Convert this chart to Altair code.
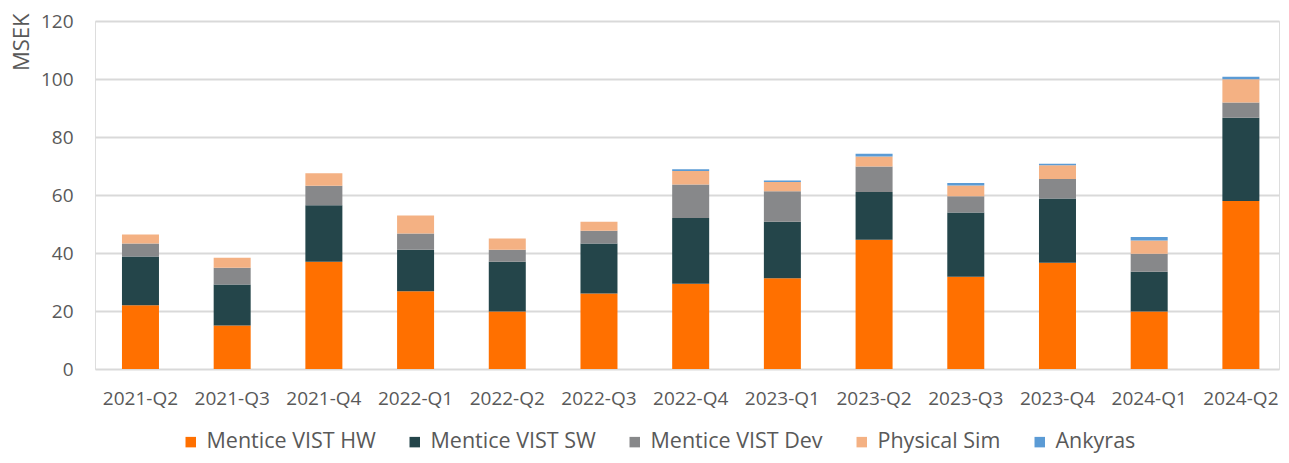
import altair as alt
import pandas as pd

quarters = ["2021-Q2", "2021-Q3", "2021-Q4", "2022-Q1", "2022-Q2", "2022-Q3", "2022-Q4",
            "2023-Q1", "2023-Q2", "2023-Q3", "2023-Q4", "2024-Q1", "2024-Q2"]
series = ["Mentice VIST HW", "Mentice VIST SW", "Mentice VIST Dev", "Physical Sim", "Ankyras"]
colors = ["#ff7000", "#24454a", "#87888a", "#f4b183", "#5b9bd5"]

vist_hw = [22.0, 15.0, 37.0, 26.8, 19.8, 26.0, 29.4, 31.3, 44.6, 31.8, 36.6, 19.8, 57.9]
vist_sw = [16.8, 14.1, 19.5, 14.3, 17.2, 17.3, 22.7, 19.5, 16.4, 22.2, 22.2, 13.7, 28.7]
vist_dev = [4.5, 5.8, 6.7, 5.6, 4.1, 4.4, 11.5, 10.5, 8.8, 5.6, 6.7, 6.2, 5.3]
physical_sim = [3.1, 3.5, 4.3, 6.2, 3.9, 3.1, 4.7, 3.2, 3.5, 3.7, 4.8, 4.6, 8.0]
ankyras = [0, 0, 0, 0, 0, 0, 0.6, 0.5, 0.9, 0.8, 0.5, 1.2, 0.9]

values = [vist_hw, vist_sw, vist_dev, physical_sim, ankyras]
rows = []
for si, (name, vals) in enumerate(zip(series, values)):
    for q, v in zip(quarters, vals):
        rows.append({"Quarter": q, "Series": name, "Value": v, "order": si})
df = pd.DataFrame(rows)

FONT = "Open Sans"
GREY = "#595959"

chart = alt.Chart(df).mark_bar().encode(
    x=alt.X("Quarter:N", sort=quarters,
            scale=alt.Scale(paddingInner=0.5965, paddingOuter=0.254, align=0.579),
            axis=alt.Axis(title=None, labelAngle=0, ticks=False, domain=False,
                          labelPadding=20, labelFontSize=19, labelColor=GREY, labelFont=FONT)),
    y=alt.Y("Value:Q", stack="zero",
            scale=alt.Scale(domain=[0, 120], nice=False),
            axis=alt.Axis(values=[0, 20, 40, 60, 80, 100, 120], title="MSEK",
                          ticks=False, domain=False, labelPadding=22,
                          labelFontSize=19, labelColor=GREY, labelFont=FONT,
                          titleFont=FONT, titleFontSize=22, titleColor=GREY,
                          titleFontWeight="normal", titleAngle=-90,
                          titleAlign="right", titleBaseline="middle",
                          titleX=-74, titleY=-8,
                          gridColor="#d9d9d9", gridWidth=2)),
    color=alt.Color("Series:N", sort=series,
                    scale=alt.Scale(domain=series, range=colors),
                    legend=alt.Legend(title=None, orient="none", direction="horizontal",
                                      legendX=85, legendY=410, columns=5,
                                      symbolType="square", symbolSize=110,
                                      symbolStrokeWidth=0, labelFont=FONT,
                                      labelFontSize=21.5, labelColor=GREY,
                                      labelOffset=5, columnPadding=28,
                                      labelLimit=300)),
    order=alt.Order("order:Q", sort="ascending"),
).properties(
    width=1184, height=348,
    autosize=alt.AutoSizeParams(type="none"),
    padding={"left": 87, "top": 13, "right": 2, "bottom": 86},
).configure_view(stroke=None).configure(background="white")

chart.save("out.html", embed_options={"renderer": "svg", "actions": False})
